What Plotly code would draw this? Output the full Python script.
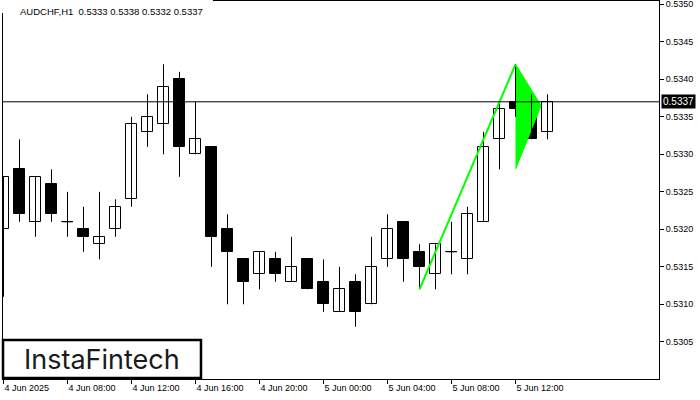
import plotly.graph_objects as go

# ---- data ----
tick_idx = [0, 4, 8, 12, 16, 20, 24, 28, 32]
tick_labels = ["4 Jun 2025", "4 Jun 08:00", "4 Jun 12:00", "4 Jun 16:00", "4 Jun 20:00",
               "5 Jun 00:00", "5 Jun 04:00", "5 Jun 08:00", "5 Jun 12:00"]

opens  = [0.5320, 0.5328, 0.5321, 0.5326, 0.5321, 0.5320, 0.5318, 0.5320, 0.5324, 0.5333,
          0.5334, 0.5340, 0.5330, 0.5331, 0.5320, 0.5316, 0.5314, 0.5316, 0.5313, 0.5316,
          0.5313, 0.5309, 0.5313, 0.5310, 0.5316, 0.5321, 0.5317, 0.5314, 0.5317, 0.5316,
          0.5321, 0.5332, 0.5337, 0.5335, 0.5333]
highs  = [0.5327, 0.5332, 0.5327, 0.5328, 0.5325, 0.5323, 0.5325, 0.5324, 0.5335, 0.5338,
          0.5342, 0.5341, 0.5337, 0.5331, 0.5322, 0.5316, 0.5317, 0.5317, 0.5319, 0.5316,
          0.5316, 0.5315, 0.5314, 0.5319, 0.5322, 0.5321, 0.5318, 0.5318, 0.5321, 0.5323,
          0.5333, 0.5337, 0.5342, 0.5338, 0.5338]
lows   = [0.5311, 0.5321, 0.5319, 0.5321, 0.5319, 0.5317, 0.5316, 0.5319, 0.5323, 0.5331,
          0.5330, 0.5327, 0.5330, 0.5315, 0.5310, 0.5310, 0.5312, 0.5313, 0.5313, 0.5312,
          0.5309, 0.5309, 0.5307, 0.5310, 0.5315, 0.5313, 0.5312, 0.5312, 0.5314, 0.5314,
          0.5321, 0.5328, 0.5335, 0.5332, 0.5332]
closes = [0.5327, 0.5322, 0.5327, 0.5322, 0.5321, 0.5319, 0.5319, 0.5323, 0.5334, 0.5335,
          0.5339, 0.5331, 0.5332, 0.5319, 0.5317, 0.5313, 0.5317, 0.5314, 0.5315, 0.5312,
          0.5310, 0.5312, 0.5309, 0.5315, 0.5320, 0.5316, 0.5315, 0.5318, 0.5317, 0.5322,
          0.5331, 0.5336, 0.5336, 0.5332, 0.5337]

pole_x = [26, 32]
pole_y = [0.5312, 0.5342]
pennant_x = [32, 33.6, 32]
pennant_y = [0.5342, 0.53365, 0.5328]

y_ticks = [0.5305, 0.5310, 0.5315, 0.5320, 0.5325, 0.5330, 0.5335, 0.5340, 0.5345, 0.5350]
last_price = 0.5337
title_text = "AUDCHF,H1  0.5333 0.5338 0.5332 0.5337"
logo_text = "InstaFintech"

# ---- build ----
n = len(opens)
idx = list(range(n))
body_w = 0.66

fig = go.Figure()

# pennant (under candles)
fig.add_trace(go.Scatter(x=pennant_x, y=pennant_y, fill="toself", fillcolor="#00ff00",
                         mode="lines", line=dict(color="#00ff00", width=1),
                         hoverinfo="skip", showlegend=False))

# wicks and doji marks
wx, wy = [], []
for i in idx:
    wx += [i, i, None]
    wy += [highs[i], lows[i], None]
    if opens[i] == closes[i]:
        wx += [i - body_w / 2, i + body_w / 2, None]
        wy += [opens[i], opens[i], None]
fig.add_trace(go.Scatter(x=wx, y=wy, mode="lines", line=dict(color="black", width=1),
                         hoverinfo="skip", showlegend=False))

# bodies
bases = [min(o, c) for o, c in zip(opens, closes)]
heights = [abs(c - o) for o, c in zip(opens, closes)]
colors = ["white" if c > o else "black" for o, c in zip(opens, closes)]
fig.add_trace(go.Bar(x=idx, y=heights, base=bases, width=body_w,
                     marker=dict(color=colors, line=dict(color="black", width=1)),
                     hoverinfo="skip", showlegend=False))

# flagpole (above candles)
fig.add_trace(go.Scatter(x=pole_x, y=pole_y, mode="lines",
                         line=dict(color="#00ff00", width=2),
                         hoverinfo="skip", showlegend=False))

axis_font = dict(family="Liberation Sans, Arial, sans-serif", size=9, color="black")

fig.update_layout(
    width=700, height=400,
    margin=dict(l=3, r=41, t=1, b=21, autoexpand=False),
    paper_bgcolor="white", plot_bgcolor="white",
    showlegend=False, bargap=0,
    xaxis=dict(range=[-0.03125, 40.96875], tickmode="array", tickvals=tick_idx,
               ticktext=tick_labels, ticks="outside", ticklen=4, tickcolor="black",
               showline=True, linecolor="black", linewidth=1, mirror=True,
               showgrid=False, zeroline=False, ticklabelposition="outside right",
               ticklabeloverflow="allow", automargin=False,
               tickfont=axis_font, fixedrange=True),
    yaxis=dict(range=[0.530004, 0.535044], side="right", tickmode="array",
               tickvals=y_ticks, ticktext=[f"{v:.4f}" for v in y_ticks],
               ticks="outside", ticklen=4, tickcolor="black",
               showline=True, linecolor="black", linewidth=1, mirror=True,
               showgrid=False, zeroline=False, ticklabeloverflow="allow", automargin=False,
               tickfont=axis_font, fixedrange=True),
)

# current price line
fig.add_shape(type="line", xref="paper", yref="y", x0=0, x1=1, y0=last_price, y1=last_price,
              line=dict(color="black", width=1), layer="above")
fig.add_annotation(xref="paper", yref="y", x=1, y=last_price, xanchor="left", yanchor="middle",
                   xshift=2, text=f"{last_price:.4f}", showarrow=False,
                   font=dict(family="Liberation Sans, Arial, sans-serif", size=10, color="white"),
                   bgcolor="black", borderpad=1)

# white patch behind title (frame hidden there)
fig.add_shape(type="rect", xref="paper", yref="paper", x0=-0.01, x1=0.32, y0=0.968, y1=1.01,
              fillcolor="white", line=dict(width=0), layer="above")
fig.add_annotation(xref="paper", yref="paper", x=0, y=1, xanchor="left", yanchor="top",
                   xshift=15, yshift=-3, text=title_text, showarrow=False,
                   font=dict(family="Liberation Sans, Arial, sans-serif", size=9.5, color="black"))

# logo box
fig.add_shape(type="rect", xref="paper", yref="paper", x0=0.0, x1=0.3018, y0=0.0026, y1=0.1032,
              fillcolor="white", line=dict(color="black", width=2.5), layer="above")
fig.add_annotation(xref="paper", yref="paper", x=0.1509, y=0.0529, xanchor="center",
                   yanchor="middle", text=logo_text, showarrow=False,
                   font=dict(family="Inter, Lato, sans-serif", size=27, color="#1a1a1a"))

fig.write_html("out.html", config={"displayModeBar": False},
               post_script="document.body.style.margin='0';document.body.style.padding='0';"
                           "document.body.style.overflow='hidden';")
